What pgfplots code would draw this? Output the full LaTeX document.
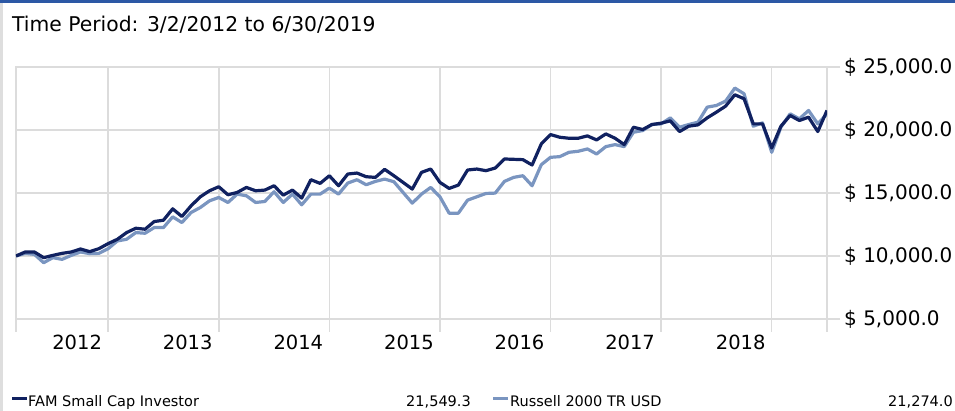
\documentclass[border=0pt]{standalone}
\usepackage{fontspec}
\setmainfont{DejaVu Sans}
\usepackage{pgfplots}
\pgfplotsset{compat=1.18}
\definecolor{fam}{RGB}{16,33,96}
\definecolor{rus}{RGB}{122,149,192}
\definecolor{gridc}{RGB}{220,220,220}
\definecolor{topbar}{RGB}{44,88,165}
\definecolor{leftbar}{RGB}{222,222,222}
\begin{document}
\begin{tikzpicture}[x=1pt,y=1pt]
\useasboundingbox (0,0) rectangle (955,411);
\fill[topbar] (0,408) rectangle (955,411);
\fill[leftbar] (0,0) rectangle (3.3,408);
\node[anchor=base west, inner sep=0pt, font=\fontsize{20.3}{24}\selectfont] at (12,379) {Time Period: 3/2/2012 to 6/30/2019};
\begin{axis}[
  scale only axis, width=811pt, height=252pt,
  at={(16pt,92pt)}, anchor=south west,
  xmin=0, xmax=88, ymin=5000, ymax=25000,
  scaled y ticks=false,
  xtick={0,10,22,34,46,58,70,82,88},
  xticklabels={,2012,2013,2014,2015,2016,2017,2018,},
  ytick={5000,10000,15000,20000,25000},
  yticklabels={\$ 5{,}000.0,\$ 10{,}000.0,\$ 15{,}000.0,\$ 20{,}000.0,\$ 25{,}000.0},
  xtick pos=bottom, ytick pos=right, yticklabel pos=right,
  tick align=outside, major tick length=13pt,
  grid=major,
  major grid style={gridc, line width=1.5pt},
  axis line style={gridc, line width=1.5pt},
  major tick style={gridc, line width=1.5pt},
  xticklabel style={anchor=north east, inner sep=0pt, xshift=-6pt, yshift=-3pt, font=\fontsize{19.5}{22}\selectfont},
  yticklabel style={anchor=west, inner sep=0pt, xshift=4pt, font=\fontsize{20}{24}\selectfont},
]
\addplot[rus, line width=3.2pt, line join=round, mark=none] coordinates {
(0,10000)(1,10210)(2,10130)(3,9467)(4,9866)(5,9734)(6,10050)(7,10318)(8,10185)(9,10210)
(10,10583)(11,11194)(12,11327)(13,11858)(14,11805)(15,12256)(16,12256)(17,13106)(18,12654)(19,13451)
(20,13849)(21,14380)(22,14645)(23,14247)(24,14911)(25,14778)(26,14247)(27,14327)(28,15097)(29,14247)
(30,14911)(31,14062)(32,14911)(33,14911)(34,15389)(35,14911)(36,15787)(37,16053)(38,15655)(39,15920)
(40,16106)(41,15894)(42,15044)(43,14194)(44,14911)(45,15442)(46,14699)(47,13398)(48,13398)(49,14433)
(50,14699)(51,14964)(52,14991)(53,15920)(54,16239)(55,16371)(56,15575)(57,17247)(58,17832)(59,17885)
(60,18230)(61,18310)(62,18495)(63,18097)(64,18681)(65,18840)(66,18681)(67,19823)(68,19956)(69,20434)
(70,20487)(71,20964)(72,20221)(73,20434)(74,20620)(75,21814)(76,21947)(77,22292)(78,23327)(79,22876)
(80,20301)(81,20566)(82,18230)(83,20221)(84,21283)(85,20885)(86,21549)(87,20487)(88,21274)
};
\addplot[fam, line width=3.2pt, line join=round, mark=none] coordinates {
(0,10000)(1,10318)(2,10318)(3,9866)(4,10050)(5,10210)(6,10318)(7,10556)(8,10344)(9,10583)
(10,10982)(11,11327)(12,11858)(13,12203)(14,12123)(15,12734)(16,12840)(17,13743)(18,13132)(19,13982)
(20,14699)(21,15177)(22,15495)(23,14858)(24,15044)(25,15442)(26,15177)(27,15230)(28,15575)(29,14831)
(30,15230)(31,14593)(32,16053)(33,15761)(34,16371)(35,15575)(36,16504)(37,16584)(38,16292)(39,16239)
(40,16876)(41,16371)(42,15840)(43,15310)(44,16637)(45,16902)(46,15840)(47,15363)(48,15628)(49,16823)
(50,16902)(51,16770)(52,16982)(53,17699)(54,17672)(55,17646)(56,17221)(57,18894)(58,19637)(59,19425)
(60,19345)(61,19345)(62,19531)(63,19212)(64,19690)(65,19345)(66,18840)(67,20221)(68,20035)(69,20434)
(70,20540)(71,20725)(72,19876)(73,20301)(74,20407)(75,20964)(76,21416)(77,21894)(78,22796)(79,22478)
(80,20487)(81,20487)(82,18575)(83,20301)(84,21150)(85,20752)(86,21018)(87,19876)(88,21549)
};
\end{axis}
\begin{scope}[font=\fontsize{14.5}{17}\selectfont]
\fill[fam] (12,10.5) rectangle (27,13.5);
\node[anchor=base west, inner sep=0pt] at (28,4) {FAM Small Cap Investor};
\node[anchor=base east, inner sep=0pt] at (471,4) {21,549.3};
\fill[rus] (493,10.5) rectangle (508,13.5);
\node[anchor=base west, inner sep=0pt] at (510,4) {Russell 2000 TR USD};
\node[anchor=base east, inner sep=0pt] at (953,4) {21,274.0};
\end{scope}
\end{tikzpicture}
\end{document}
